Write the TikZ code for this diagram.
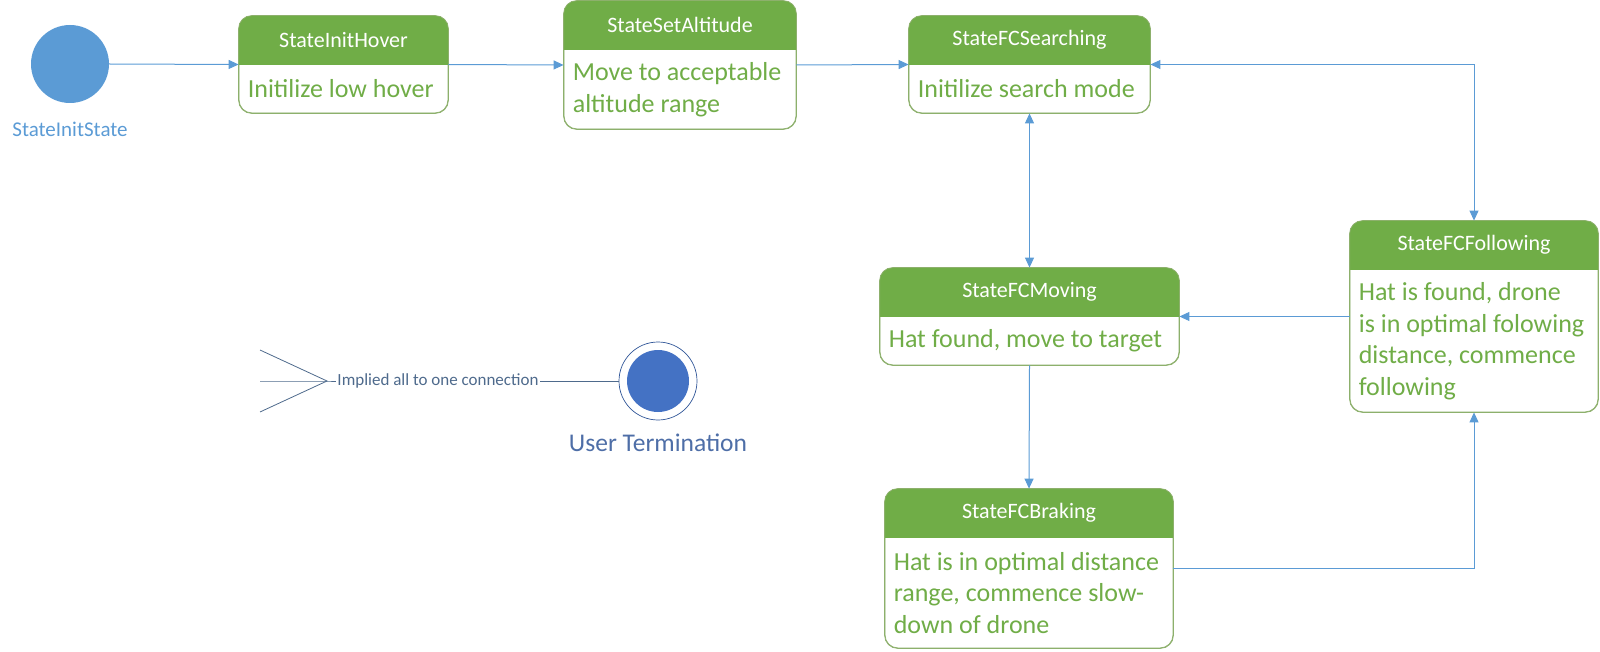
\documentclass[tikz,border=0pt]{standalone}
\usepackage{fontspec}
\setmainfont{Carlito}
\usetikzlibrary{positioning, arrows.meta, calc, shapes}
\definecolor{stategreen}{HTML}{70AD47}
\definecolor{boxedge}{HTML}{8DB06C}
\definecolor{linkblue}{HTML}{5B9BD5}
\definecolor{endblue}{HTML}{4472C4}
\definecolor{darkblue}{HTML}{2F5597}
\definecolor{legendgrey}{HTML}{4E6A8C}
\tikzstyle{arrow} = [line width=1pt, linkblue, ->, >={Triangle[width=9pt,length=10pt]}]
\tikzstyle{statebox} = [draw=boxedge, line width=0.8pt, rounded corners=13pt, fill=white, inner sep=0pt]
\tikzstyle{titletext} = [text=white, font=\fontsize{22}{26}\selectfont]
\tikzstyle{bodytext} = [text=stategreen, align=left, anchor=west, inner sep=0pt, font=\fontsize{26}{31.5}\selectfont]

% name, x, y, width, height, title, body
\newcommand{\statenode}[7]{%
  \node[statebox, minimum width=#4pt, minimum height=#5pt] (#1) at (#2,#3) {};
  \begin{scope}
    \clip[rounded corners=13pt] (#1.south west) rectangle (#1.north east);
    \fill[stategreen] (#1.north west) rectangle ([yshift=-49pt]#1.north east);
  \end{scope}
  \draw[boxedge, line width=0.8pt, rounded corners=13pt] (#1.south west) rectangle (#1.north east);
  \node[titletext] at ([yshift=-24.5pt]#1.north) {#6};
  \node[bodytext] at ([xshift=9pt]$(#1.south west)!0.5!([yshift=-49pt]#1.north west)$) {#7};
}

\begin{document}
\begin{tikzpicture}[x=1pt, y=-1pt]
  \useasboundingbox (0,0) rectangle (1600,652);

  % start state
  \node[circle, fill=linkblue, minimum size=78pt, inner sep=0pt] (initstate) at (70,64) {};
  \node[text=linkblue, font=\fontsize{21}{25}\selectfont] (initlabel) at (70,129) {StateInitState};

  % states
  \statenode{hover}{343.5}{64.5}{209}{97}{StateInitHover}{Initilize low hover}
  \statenode{altitude}{680}{65}{232}{128}{StateSetAltitude}{Move to acceptable\\altitude range}
  \statenode{searching}{1029.5}{64.5}{241}{97}{StateFCSearching}{Initilize search mode}
  \statenode{following}{1474}{316.5}{248}{191}{StateFCFollowing}{Hat is found, drone\\is in optimal folowing\\distance, commence\\following}
  \statenode{moving}{1029.5}{316.5}{299}{97}{StateFCMoving}{Hat found, move to target}
  \statenode{braking}{1029}{568.5}{288}{159}{StateFCBraking}{Hat is in optimal distance\\range, commence slow-\\down of drone}

  % transitions
  \draw[arrow] (initstate.east) -- (hover.west);
  \draw[arrow] (hover.east) -- (altitude.west);
  \draw[arrow] (altitude.east) -- (searching.west);
  \draw[arrow, <->] (searching.south) -- (moving.north);
  \draw[arrow, <->] (searching.east) -| (following.north);
  \draw[arrow] (following.west) -- (moving.east);
  \draw[arrow] (moving.south) -- (braking.north);
  \draw[arrow] (braking.east) -| (following.south);

  % legend: implied connection to the end state
  \node[circle, draw=darkblue, line width=0.7pt, minimum size=78pt, inner sep=0pt] (endstate) at (658,381) {};
  \fill[endblue] (endstate.center) circle (31pt);
  \node[text=darkblue!85!white, font=\fontsize{25.5}{30}\selectfont] (endlabel) at (658,443) {User Termination};
  \coordinate (fanA) at (260,350);
  \coordinate (fanB) at (260,381);
  \coordinate (fanC) at (260,412);
  \coordinate (fanjoin) at (327,381);
  \node[text=legendgrey, inner sep=1.5pt, font=\fontsize{17}{20}\selectfont] (implied) at (438,381) {Implied all to one connection};
  \draw[legendgrey, line width=0.8pt] (fanA) -- (fanjoin) -- (fanC);
  \draw[legendgrey, line width=0.8pt] (fanB) -- (fanjoin) -- (implied.west);
  \draw[legendgrey, line width=0.8pt] (implied.east) -- (endstate.west);
\end{tikzpicture}
\end{document}
